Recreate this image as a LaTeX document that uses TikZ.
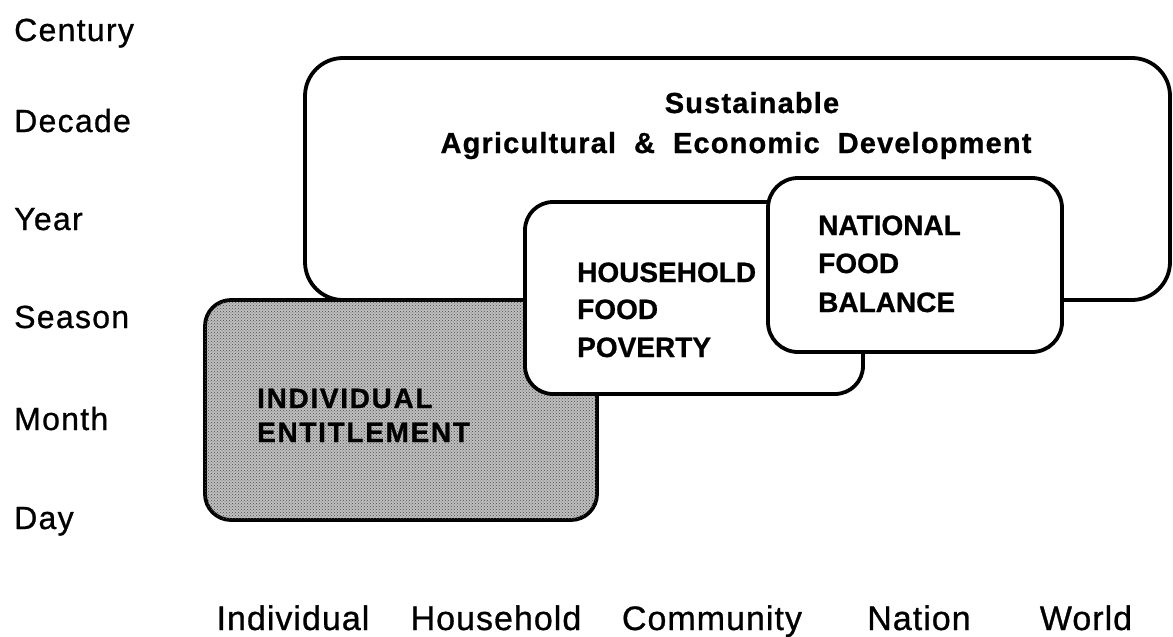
\documentclass[tikz,border=0pt]{standalone}
\usepackage{fontspec}
\usetikzlibrary{patterns}
\setmainfont{Liberation Sans}
% slightly thickened faces for the captions and box titles
\newfontfamily\timefont[LetterSpace=4,FakeBold=0.8]{Liberation Sans}
\newfontfamily\levelfont[LetterSpace=3,FakeBold=0.8]{Liberation Sans}
\newfontfamily\titlefont[LetterSpace=4,FakeBold=0.8]{Liberation Sans Bold}
\newfontfamily\capsfont[FakeBold=0.8]{Liberation Sans Bold}
\newfontfamily\widecapsfont[LetterSpace=6,FakeBold=0.8]{Liberation Sans Bold}
\begin{document}
\begin{tikzpicture}[x=1pt,y=-1pt,
  frame/.style={draw=black, line width=3.8pt, rounded corners=#1,
                rectangle, anchor=north west, inner sep=0pt, outer sep=0pt},
  timelbl/.style={anchor=base west, inner sep=0pt,
                  font=\timefont\fontsize{32}{38}\selectfont},
  levellbl/.style={anchor=base, inner sep=0pt,
                   font=\levelfont\fontsize{34}{40}\selectfont},
  caps/.style={anchor=base west, inner sep=0pt,
               font=\capsfont\fontsize{28}{33}\selectfont},
  capsw/.style={anchor=base west, inner sep=0pt,
               font=\widecapsfont\fontsize{28}{33}\selectfont},
  title/.style={anchor=base, inner sep=0pt,
                font=\titlefont\fontsize{29}{34}\selectfont}]
\useasboundingbox (0,0) rectangle (1173,637);

% time scale down the left side
\node[timelbl] (century) at (14,41)  {Century};
\node[timelbl] (decade)  at (14,132) {Decade};
\node[timelbl] (year)    at (14,230) {Year};
\node[timelbl] (season)  at (14,328) {Season};
\node[timelbl] (month)   at (14,430) {Month};
\node[timelbl] (day)     at (14,529) {Day};

% social scale along the bottom
\node[levellbl] (individual) at (293,630)  {Individual};
\node[levellbl] (household)  at (496,630)  {Household};
\node[levellbl] (community)  at (712,630)  {Community};
\node[levellbl] (nation)     at (919,630)  {Nation};
\node[levellbl] (world)      at (1086,630) {World};

% long-term development frame
\node[frame=38pt, fill=white, minimum width=865pt, minimum height=242pt]
  (develop) at (305,58) {};
\node[title] (develop1) at (752,113) {Sustainable};
\node[title] (develop2) at (736,153)
  {Agricultural\hspace{18pt}\&\hspace{18pt}Economic\hspace{18pt}Development};

% individual entitlement (stippled)
\node[frame=26pt, fill=black!25, minimum width=392pt, minimum height=220pt,
      postaction={pattern=crosshatch dots, pattern color=black!70}]
  (entitle) at (205,300) {};
\node[capsw] (entitle1) at (257,408) {INDIVIDUAL};
\node[capsw] (entitle2) at (257,442) {ENTITLEMENT};

% household food poverty
\node[frame=28pt, fill=white, minimum width=338pt, minimum height=192pt]
  (poverty) at (525,202) {};
\node[caps] (poverty1) at (577,282) {HOUSEHOLD};
\node[caps] (poverty2) at (577,319) {FOOD};
\node[caps] (poverty3) at (577,357) {POVERTY};

% national food balance
\node[frame=30pt, fill=white, minimum width=294pt, minimum height=174pt]
  (balance) at (768,178) {};
\node[caps] (balance1) at (818,235) {NATIONAL};
\node[caps] (balance2) at (818,273) {FOOD};
\node[caps] (balance3) at (818,312) {BALANCE};
\end{tikzpicture}
\end{document}
